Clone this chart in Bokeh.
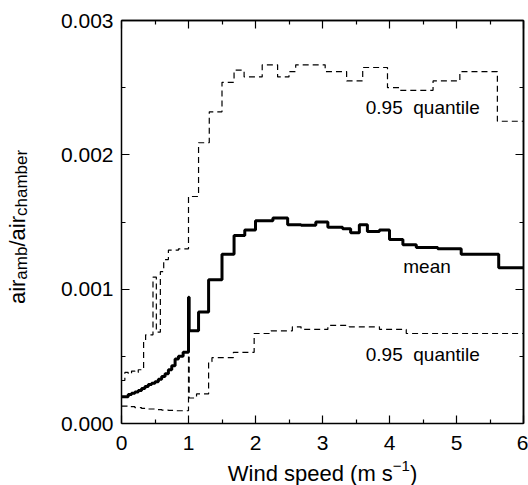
from bokeh.plotting import figure
from bokeh.models import Range1d, FixedTicker, NumeralTickFormatter, LinearAxis, Label
from bokeh.embed import file_html
from bokeh.resources import INLINE

# ---- data (bin left edges, values) ----
mean_x = [0.00, 0.10, 0.15, 0.20, 0.25, 0.30, 0.35, 0.40, 0.45, 0.50, 0.55, 0.60, 0.65,
          0.70, 0.75, 0.80, 0.85, 0.92, 1.00, 1.01, 1.15, 1.30, 1.50, 1.68, 1.84, 2.00,
          2.26, 2.48, 2.68, 2.90, 3.08, 3.30, 3.42, 3.55, 3.67, 3.85, 4.00, 4.20, 4.40,
          4.72, 5.07, 5.63]
mean_y = [0.000200, 0.000215, 0.000225, 0.000235, 0.000245, 0.000260, 0.000275, 0.000290,
          0.000300, 0.000310, 0.000330, 0.000350, 0.000370, 0.000400, 0.000430, 0.000480,
          0.000500, 0.000530, 0.000940, 0.000690, 0.000830, 0.001070, 0.001260, 0.001400,
          0.001440, 0.001510, 0.001530, 0.001480, 0.001475, 0.001500, 0.001460, 0.001450,
          0.001420, 0.001480, 0.001430, 0.001440, 0.001370, 0.001330, 0.001310, 0.001300,
          0.001260, 0.001160]

upper_x = [0.00, 0.05, 0.10, 0.15, 0.20, 0.25, 0.30, 0.33, 0.36, 0.47, 0.52, 0.58, 0.63,
           0.70, 0.85, 1.00, 1.15, 1.31, 1.50, 1.68, 1.83, 2.10, 2.33, 2.50, 2.60, 3.04,
           3.36, 3.60, 3.97, 4.15, 4.65, 5.05, 5.61]
upper_y = [0.000320, 0.000380, 0.000370, 0.000390, 0.000380, 0.000400, 0.000410, 0.000620,
           0.000660, 0.001090, 0.000680, 0.001130, 0.001220, 0.001290, 0.001300, 0.001690,
           0.002090, 0.002320, 0.002540, 0.002630, 0.002580, 0.002670, 0.002580, 0.002620,
           0.002670, 0.002620, 0.002550, 0.002650, 0.002500, 0.002480, 0.002550, 0.002620,
           0.002250]

lower_x = [0.00, 0.10, 0.20, 0.30, 0.40, 0.50, 0.60, 0.70, 0.80, 1.00, 1.01, 1.12, 1.30,
           1.35, 1.67, 1.98, 2.23, 2.55, 2.68, 3.08, 3.40, 3.85, 4.25]
lower_y = [0.000130, 0.000125, 0.000118, 0.000112, 0.000108, 0.000104, 0.000100, 0.000097,
           0.000095, 0.000510, 0.000190, 0.000220, 0.000460, 0.000490, 0.000530, 0.000670,
           0.000690, 0.000720, 0.000700, 0.000730, 0.000720, 0.000700, 0.000670]

x_lo, x_hi = 0.0, 6.0
y_lo, y_hi = 0.0, 0.003
x_ticks = [0, 1, 2, 3, 4, 5, 6]
x_minor = [0.5, 1.5, 2.5, 3.5, 4.5, 5.5]
y_ticks = [0.0, 0.001, 0.002, 0.003]
y_minor = [0.0005, 0.0015, 0.0025]

FONT = "Liberation Sans"

# layout (pixels): axes box inside the canvas
W_PX, H_PX = 528, 485
BOX_L, BOX_R, BOX_T, BOX_B = 121, 523, 20, 423
sx = (BOX_R - BOX_L) / (x_hi - x_lo)
sy = (BOX_B - BOX_T) / (y_hi - y_lo)

p = figure(width=W_PX, height=H_PX, output_backend="svg", toolbar_location=None,
           x_range=Range1d(x_lo - BOX_L / sx, x_hi + (W_PX - BOX_R) / sx),
           y_range=Range1d(y_lo - (H_PX - BOX_B) / sy, y_hi + BOX_T / sy),
           x_axis_type=None, y_axis_type=None, min_border=0)
p.title.visible = False
p.xgrid.visible = False
p.ygrid.visible = False
p.outline_line_color = None
p.background_fill_color = "white"
p.border_fill_color = "white"


def close(xs, ys):
    return list(xs) + [x_hi], list(ys) + [ys[-1]]


ux, uy = close(upper_x, upper_y)
lx, ly = close(lower_x, lower_y)
mx, my = close(mean_x, mean_y)
p.step(ux, uy, mode="after", line_color="black", line_width=1.2, line_dash="6 4")
p.step(lx, ly, mode="after", line_color="black", line_width=1.2, line_dash="6 4")
p.step(mx, my, mode="after", line_color="black", line_width=3)


def make_axis(loc, bounds, ticks, minor, minor_len=4, standoff=8):
    ax = LinearAxis(fixed_location=loc, bounds=bounds,
                    ticker=FixedTicker(ticks=ticks, minor_ticks=minor))
    ax.axis_line_color = "black"
    ax.axis_line_width = 1.5
    ax.major_tick_line_color = "black"
    ax.major_tick_line_width = 1.2
    ax.minor_tick_line_color = "black"
    ax.minor_tick_line_width = 1.2
    ax.major_tick_in = 8
    ax.major_tick_out = 0
    ax.minor_tick_in = minor_len
    ax.minor_tick_out = 0
    ax.major_label_text_font = FONT
    ax.major_label_text_font_size = "21px"
    ax.major_label_text_color = "black"
    ax.major_label_standoff = standoff
    return ax


# labelled bottom and left axes
bottom = make_axis(y_lo, (x_lo, x_hi), x_ticks, x_minor, standoff=12)
left = make_axis(x_lo, (y_lo, y_hi), y_ticks, y_minor)
left.formatter = NumeralTickFormatter(format="0.000")
p.add_layout(bottom, "below")
p.add_layout(left, "left")

# mirrored top and right axes: tick marks only (drawn as minor ticks, so no labels)
p.add_layout(make_axis(y_hi, (x_lo, x_hi), [], x_ticks, 8), "above")
p.add_layout(make_axis(y_hi, (x_lo, x_hi), [], x_minor, 4), "above")
p.add_layout(make_axis(x_hi, (y_lo, y_hi), [], y_ticks, 8), "right")
p.add_layout(make_axis(x_hi, (y_lo, y_hi), [], y_minor, 4), "right")

# Arial / Liberation Sans advance widths (per 1000 em)
W = {'a': 556, 'i': 222, 'r': 333, 'm': 833, 'b': 556, '/': 278, 'c': 500, 'h': 556,
     'e': 556, 'W': 944, 'n': 556, 'd': 556, ' ': 278, 's': 500, 'p': 556, '(': 333,
     ')': 333, '\u2212': 584, '1': 556}


def tw(s, size):
    return sum(W[c] for c in s) / 1000.0 * size


y_mid = (y_lo + y_hi) / 2
x_mid = (x_lo + x_hi) / 2

# y-axis label: air_amb / air_chamber (rotated)
ypieces = [("air", 22, False), ("amb", 17, True), ("/air", 22, False), ("chamber", 17, True)]
total = sum(tw(t, s) for t, s, _ in ypieces)
pos = -5 - total / 2
for t, s, sub in ypieces:
    p.add_layout(Label(x=x_lo, y=y_mid, text=t, angle=1.5707963, text_align="left",
                       text_baseline="alphabetic", text_font=FONT, text_font_size=f"{s}px",
                       text_color="black", x_offset=-100 if sub else -104, y_offset=pos))
    pos += tw(t, s)

# x-axis label: Wind speed (m s^-1)
xpieces = [("Wind speed (m s", 22, False), ("\u22121", 15, True), (")", 22, False)]
total = sum(tw(t, s) for t, s, _ in xpieces)
pos = -total / 2
for t, s, sup in xpieces:
    p.add_layout(Label(x=x_mid, y=y_lo, text=t, text_align="left", text_baseline="alphabetic",
                       text_font=FONT, text_font_size=f"{s}px", text_color="black",
                       x_offset=pos, y_offset=-42 if sup else -50))
    pos += tw(t, s)

# curve annotations
for t, x, y in [("0.95\u00a0 quantile", 4.497, 0.002316), ("mean", 4.56, 0.001128),
                ("0.95\u00a0 quantile", 4.497, 0.000475)]:
    p.add_layout(Label(x=x, y=y, text=t, text_align="center", text_baseline="alphabetic",
                       text_font=FONT, text_font_size="19px", text_color="black",
                       y_offset=5))

open("out.html", "w").write(file_html(p, INLINE))
